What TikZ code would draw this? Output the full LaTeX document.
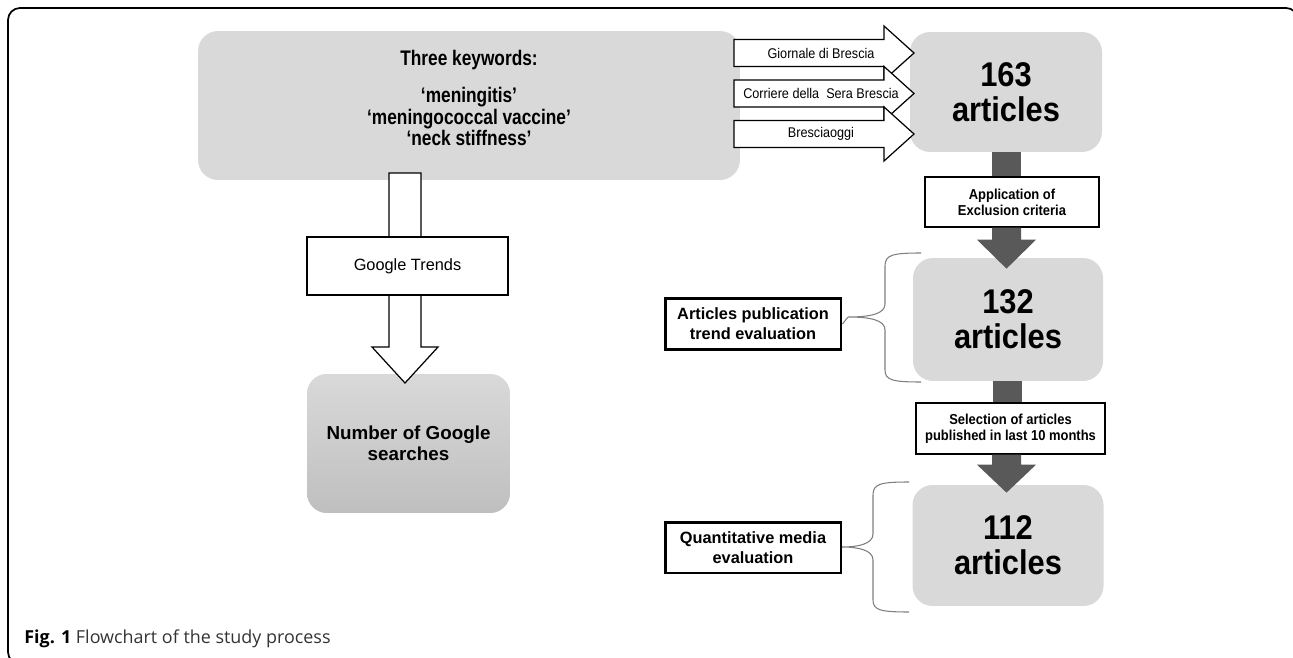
\documentclass[tikz,border=0pt]{standalone}
\usepackage{fontspec}
\setmainfont{Liberation Sans}
\newfontfamily\narrowfont{Liberation Sans}[FakeStretch=0.82]
\newfontfamily\semifont{Liberation Sans}[FakeStretch=0.9]
\newfontfamily\capfont{Open Sans}
\usetikzlibrary{calc}
\definecolor{boxgray}{HTML}{D9D9D9}
\definecolor{boxgraydark}{HTML}{BFBFBF}
\definecolor{darkfill}{HTML}{595959}
\definecolor{bracegray}{HTML}{7F7F7F}
\definecolor{captext}{HTML}{333333}
\tikzset{
  graybox/.style={fill=boxgray, rounded corners=0.4cm, inner sep=0pt, align=center},
  whitebox/.style={draw, fill=white, line width=0.8pt, inner sep=0pt, align=center},
  thickbox/.style={draw, fill=white, line width=1.7pt, inner sep=0pt, align=center},
  blockarrow/.style={draw, fill=white, line width=0.7pt, line join=miter},
  darkarrow/.style={fill=darkfill},
  bracepath/.style={draw=bracegray, line width=0.6pt},
  bigtext/.style={font=\semifont\bfseries\fontsize{19.5}{19.8}\selectfont, align=center},
  kwtext/.style={font=\narrowfont\bfseries\fontsize{12}{12.3}\selectfont, align=center},
  srctext/.style={font=\semifont\fontsize{8}{9}\selectfont},
  smallbold/.style={font=\semifont\bfseries\fontsize{8.2}{9}\selectfont},
  evaltext/.style={font=\bfseries\fontsize{9.3}{11.3}\selectfont},
}
\begin{document}
\begin{tikzpicture}[x={(0.02cm,0)}, y={(0,-0.02cm)}]
\useasboundingbox (0,0) rectangle (1293,658);
% frame
\draw[line width=1pt, rounded corners=0.24cm] (8,8) rectangle (1298,664);

% keyword box
\node[graybox, minimum width=10.84cm, minimum height=2.98cm] (kw) at (469,105.5) {};
\node[kwtext] (kwt) at (469,98) {Three keywords:\\[9pt]‘meningitis’\\‘meningococcal vaccine’\\‘neck stiffness’};

% Google branch
\node[fill=boxgray, top color=boxgray, bottom color=boxgraydark, rounded corners=0.4cm, inner sep=0pt, align=center,
      minimum width=4.06cm, minimum height=2.78cm, font=\bfseries\fontsize{10.7}{12}\selectfont] (num) at (408.5,443.5) {Number of Google\\searches};
\draw[blockarrow] (389,173) -- (421,173) -- (421,347) -- (438,347) -- (405,383) -- (372,347) -- (389,347) -- cycle;
\node[whitebox, minimum width=4.02cm, minimum height=1.16cm, font=\fontsize{9.3}{11}\selectfont] (gt) at (407.5,266) {Google Trends};

% right column gray boxes
\node[graybox, minimum width=3.84cm, minimum height=2.4cm, bigtext] (b163) at (1006,92) {163\\articles};
\node[graybox, minimum width=3.8cm, minimum height=2.46cm, bigtext] (b132) at (1008,319.5) {132\\articles};
\node[graybox, minimum width=3.82cm, minimum height=2.42cm, bigtext] (b112) at (1008,545.5) {112\\articles};

% newspaper arrows
\foreach \c/\nm/\txt in {53/giornale/Giornale di Brescia, 93.5/corriere/Corriere della\ \ Sera Brescia, 134/bresciaoggi/Bresciaoggi}{
  \draw[blockarrow] (734,\c-13.5) -- (884,\c-13.5) -- (884,\c-27) -- (914,\c) -- (884,\c+27) -- (884,\c+13.5) -- (734,\c+13.5) -- cycle;
  \node[srctext] (\nm) at (821,\c) {\txt};
}

% process boxes
\node[whitebox, minimum width=3.48cm, minimum height=1.0cm, smallbold] (app) at (1012,202) {Application of\\Exclusion criteria};
\node[whitebox, minimum width=3.78cm, minimum height=1.02cm, smallbold] (sel) at (1010.5,428.5) {Selection of articles\\published in last 10 months};

% dark connectors
\fill[darkarrow] ($(b163.south)+(-14,0)$) rectangle ($(b163.south |- app.north)+(15,0)$);
\coordinate (a2) at (b163.south |- app.south);
\fill[darkarrow] ($(a2)+(-14,0)$) -- ($(a2)+(15,0)$) -- ($(a2)+(15,12)$) -- ($(a2)+(30,12)$) -- ($(b163.south |- b132.north)+(0.5,11)$) -- ($(a2)+(-29,12)$) -- ($(a2)+(-14,12)$) -- cycle;
\fill[darkarrow] ($(b132.south)+(-15,0)$) rectangle ($(b132.south |- sel.north)+(14,0)$);
\coordinate (a4) at (b163.south |- sel.south);
\fill[darkarrow] ($(a4)+(-14,0)$) -- ($(a4)+(15,0)$) -- ($(a4)+(15,10)$) -- ($(a4)+(30,10)$) -- ($(b163.south |- b112.north)+(0.5,8)$) -- ($(a4)+(-29,10)$) -- ($(a4)+(-14,10)$) -- cycle;

% evaluation boxes and braces
\node[thickbox, minimum width=3.52cm, minimum height=1.02cm, evaltext] (pub) at (753,324) {Articles publication\\trend evaluation};
\node[thickbox, minimum width=3.52cm, minimum height=1.02cm, evaltext] (qua) at (753,547.5) {Quantitative media\\evaluation};
\coordinate (br1) at (848,317);
\coordinate (br2) at (842,547);
\draw[bracepath] (921,253) .. controls (892,253) and (885,255) .. (885,266) -- (885,304) .. controls (885,314) and (870,317) .. (br1)
  .. controls (870,317) and (885,320) .. (885,330) -- (885,370) .. controls (885,380) and (892,382) .. (921,382);
\draw[bracepath] (909,482) .. controls (880,482) and (873,484) .. (873,495) -- (873,534) .. controls (873,544) and (858,547) .. (br2)
  .. controls (858,547) and (873,550) .. (873,560) -- (873,600) .. controls (873,610) and (880,612) .. (909,612);
\draw[bracepath] (pub.east) -- (br1);
\draw[bracepath] (qua.east) -- (br2);

% caption
\node[anchor=west, inner sep=0pt, text=captext, font=\capfont\fontsize{10.2}{12}\selectfont] (cap) at (24,639) {\textbf{\color{black}Fig. 1} Flowchart of the study process};
\end{tikzpicture}
\end{document}
